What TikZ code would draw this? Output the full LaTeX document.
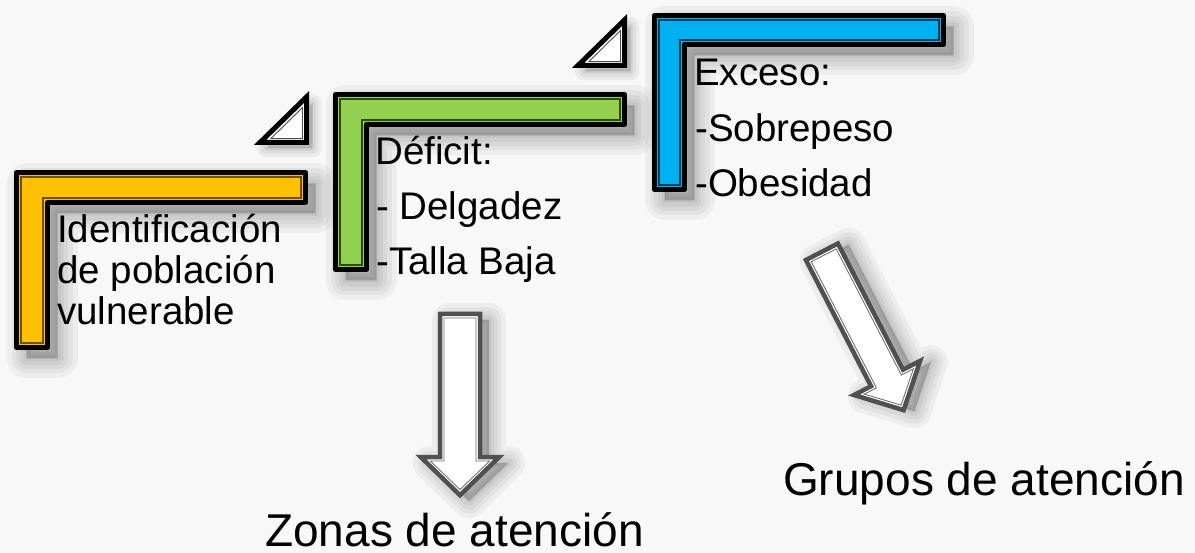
\documentclass[tikz,border=0pt]{standalone}
\usepackage{fontspec}
\setmainfont{Liberation Sans}
\definecolor{bg}{HTML}{F8F8F8}
\definecolor{yel}{HTML}{FFC000}
\definecolor{yelline}{HTML}{6B5000}
\definecolor{grn}{HTML}{92D050}
\definecolor{grnline}{HTML}{2E4A18}
\definecolor{blu}{HTML}{00B0F0}
\definecolor{bluline}{HTML}{003A55}
\definecolor{arrdark}{HTML}{505050}
\newcommand\Lpath[7]{({#1+#7},{#2+#7}) -- ({#3-#7},{#2+#7}) -- ({#3-#7},{#5-#7}) -- ({#6-#7},{#5-#7}) -- ({#6-#7},{#4-#7}) -- ({#1+#7},{#4-#7}) -- cycle}
\newcommand\drawL[8]{%
  \begin{scope}[shift={(10,11)}]
    \foreach \w in {40,30,21,13,6}{\filldraw[black,opacity=0.045,line width=\w pt,line join=round] \Lpath{#1}{#2}{#3}{#4}{#5}{#6}{2.5};}
  \end{scope}
  \filldraw[fill=#7,draw=black,line width=5pt,line join=round] \Lpath{#1}{#2}{#3}{#4}{#5}{#6}{2.5};
  \draw[#8,line width=1.1pt,line join=miter] \Lpath{#1}{#2}{#3}{#4}{#5}{#6}{7};
}
\newcommand\Apath[5]{({-#1+#5},{#5}) -- ({#1-#5},{#5}) -- ({#1-#5},{#2+#5}) -- ({#3-2.4*#5},{#2+#5}) -- (0,{#4-1.4*#5}) -- ({-#3+2.4*#5},{#2+#5}) -- ({-#1+#5},{#2+#5}) -- cycle}
\newcommand\drawA[4]{%
  \begin{scope}[shift={(9,6)}]
    \foreach \w in {34,25,17,10,4}{\filldraw[black,opacity=0.045,line width=\w pt,line join=round] \Apath{#1}{#2}{#3}{#4}{2};}
  \end{scope}
  \filldraw[fill=white,draw=arrdark,line width=4.5pt,line join=miter] \Apath{#1}{#2}{#3}{#4}{2};
  \draw[arrdark!80,line width=0.9pt,line join=miter] \Apath{#1}{#2}{#3}{#4}{6};
}
\newcommand\drawT{%
  \begin{scope}[shift={(6,6)}]
    \foreach \w in {18,11,5}{\filldraw[black,opacity=0.05,line width=\w pt,line join=round] (260,142.5) -- (306.5,97) -- (306.5,142.5) -- cycle;}
  \end{scope}
  \filldraw[fill=white,draw=black,line width=5pt,line join=miter] (260,142.5) -- (306.5,97) -- (306.5,142.5) -- cycle;
  \draw[black!70,line width=0.9pt] (271,138.5) -- (302.5,107.5) -- (302.5,138.5) -- cycle;
}
\begin{document}
\begin{tikzpicture}[x=1pt,y=-1pt,
  txt/.style={font=\fontsize{38.5}{44}\selectfont,anchor=base west,inner sep=0pt,text=black},
  bigtxt/.style={font=\fontsize{46}{50}\selectfont,anchor=base west,inner sep=0pt,text=black}]
\useasboundingbox (0,0) rectangle (1195,553);
\fill[bg] (0,0) rectangle (1195,553);
% triangles
\drawT
\begin{scope}[shift={(318,-77)}]\drawT\end{scope}
% L shapes
\drawL{14}{170}{308}{350}{205}{50}{yel}{yelline}
\drawL{333}{92}{627}{272}{127}{369}{grn}{grnline}
\drawL{652}{13}{946}{192}{47}{687}{blu}{bluline}
% arrows
\begin{scope}[shift={(460,312)}]\drawA{22}{143}{44}{186}\end{scope}
\begin{scope}[shift={(821,250)},rotate=27.3]\drawA{20}{142}{42}{183}\end{scope}
% texts
\node[txt] (i1) at (57,243) {Identificación};
\node[txt] (i2) at (57,284) {de población};
\node[txt] (i3) at (57,325) {vulnerable};
\node[txt] (d1) at (375,165) {Déficit:};
\node[txt] (d2) at (376,220) {- Delgadez};
\node[txt] (d3) at (376,275) {-Talla Baja};
\node[txt] (e1) at (694,86) {Exceso:};
\node[txt] (e2) at (695,142) {-Sobrepeso};
\node[txt] (e3) at (695,197) {-Obesidad};
\node[bigtxt] (zonas) at (265,546) {Zonas de atención};
\node[bigtxt] (grupos) at (783,495) {Grupos de atención};
\end{tikzpicture}
\end{document}
